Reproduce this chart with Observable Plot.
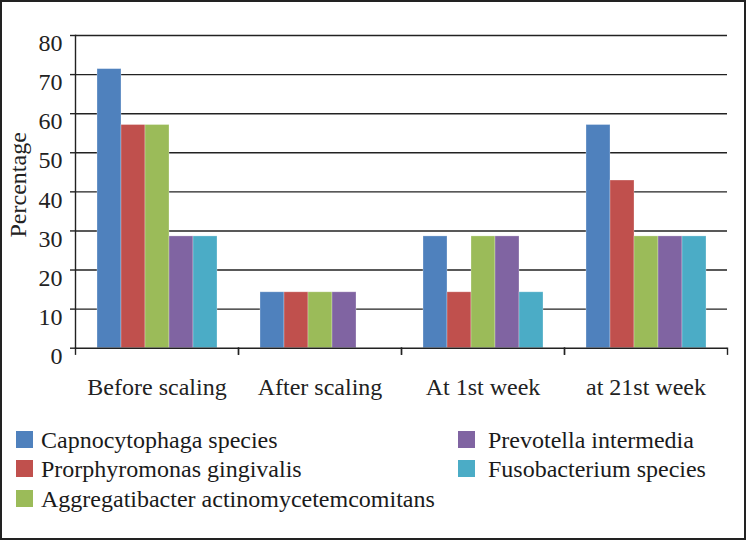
<!DOCTYPE html>
<html>
<head>
<meta charset="utf-8">
<script src="https://cdn.jsdelivr.net/npm/d3@7"></script>
<script src="https://cdn.jsdelivr.net/npm/@observablehq/plot@0.6"></script>
<style>
  html, body { margin: 0; padding: 0; background: #fff; }
  #wrap { position: relative; width: 746px; height: 540px; overflow: hidden; background: #fff; }
  #border { position: absolute; left: 0; top: 0; width: 746px; height: 540px; box-sizing: border-box; border: 2px solid #222; pointer-events: none; }
  #chart { position: absolute; left: 0; top: 0; }
  .item { position: absolute; height: 24px; line-height: 24px; font-family: "Liberation Serif", "Times New Roman", serif; font-size: 24px; color: #1a1a1a; white-space: nowrap; }
  .sw { position: absolute; left: 0; top: 3px; width: 17px; height: 17px; }
  .lbl { position: absolute; top: 0; }
</style>
</head>
<body>
<div id="wrap">
  <div id="chart"></div>
  <div id="legend"></div>
  <div id="border"></div>
</div>
<script>
const categories = ["Before scaling", "After scaling", "At 1st week", "at 21st week"];
const species = [
  "Capnocytophaga species",
  "Prorphyromonas gingivalis",
  "Aggregatibacter actinomycetemcomitans",
  "Prevotella intermedia",
  "Fusobacterium species"
];
const colors = ["#4F81BD", "#C0504D", "#9BBB59", "#8064A2", "#4BACC6"];
const capnocytophaga  = [71.4, 14.3, 28.6, 57.1];
const porphyromonas   = [57.1, 14.3, 14.3, 42.9];
const aggregatibacter = [57.1, 14.3, 28.6, 28.6];
const prevotella      = [28.6, 14.3, 28.6, 28.6];
const fusobacterium   = [28.6, 0,    14.3, 28.6];
const yTicks = [0, 10, 20, 30, 40, 50, 60, 70, 80];
const yTitle = "Percentage";

const seriesValues = [capnocytophaga, porphyromonas, aggregatibacter, prevotella, fusobacterium];
const data = [];
categories.forEach((c, i) => {
  species.forEach((s, j) => {
    data.push({category: c, species: s, value: seriesValues[j][i]});
  });
});

const ink = "#222";
const chart = Plot.plot({
  width: 746,
  height: 410,
  marginLeft: 74,
  marginRight: 19,
  marginTop: 35,
  marginBottom: 62.3,
  style: {fontFamily: "'Liberation Serif', 'Times New Roman', serif", fontSize: "24px", color: ink, background: "transparent"},
  fx: {domain: categories, padding: 0, label: null},
  x: {domain: species, paddingInner: 0, paddingOuter: 0.766, axis: null},
  y: {domain: [0, 80]},
  color: {domain: species, range: colors},
  marks: [
    Plot.ruleY(yTicks.slice(1), {stroke: ink, strokeWidth: 1.4}),
    Plot.barY(data, {fx: "category", x: "species", y: "value", fill: "species", stroke: "#fff", strokeOpacity: 0.35, strokeWidth: 0.8}),
    Plot.ruleY([0], {stroke: ink, strokeWidth: 1.4}),
    Plot.frame({anchor: "left", insetTop: 312.7, insetBottom: -6, stroke: ink, strokeWidth: 1.4}),
    Plot.frame({anchor: "right", insetTop: 312.7, insetBottom: -6, stroke: ink, strokeWidth: 1.4}),
    Plot.frame({anchor: "left", facetAnchor: "left", stroke: ink, strokeWidth: 1.4}),
    Plot.axisY(yTicks, {anchor: "left", tickSize: 5, tickFormat: () => "", stroke: ink, strokeWidth: 1.4, label: null}),
    Plot.axisY(yTicks, {anchor: "left", tickSize: 0, tickPadding: 13, dy: 8, label: null, fontSize: 24, fill: ink}),
    Plot.text([yTitle], {text: d => d, frameAnchor: "left", rotate: -90, dx: -57, dy: -7, fontSize: 24, fill: ink,
      textAnchor: "middle", lineAnchor: "middle", facetAnchor: "left"}),
    Plot.axisFx({anchor: "bottom", tickSize: 0, tickPadding: 30, label: null, fontSize: 24, fill: ink})
  ]
});
document.getElementById("chart").appendChild(chart);

// Legend
const legend = document.getElementById("legend");
const legendPos = [
  {left: 16, top: 428}, {left: 16, top: 457}, {left: 16, top: 487},
  {left: 458, top: 428}, {left: 458, top: 457}
];
species.forEach((s, i) => {
  const item = document.createElement("div");
  item.className = "item";
  item.style.left = legendPos[i].left + "px";
  item.style.top = legendPos[i].top + "px";
  const sw = document.createElement("div");
  sw.className = "sw";
  sw.style.background = colors[i];
  const lbl = document.createElement("span");
  lbl.className = "lbl";
  lbl.style.left = (i < 3 ? 25 : 30) + "px";
  lbl.textContent = s;
  item.appendChild(sw);
  item.appendChild(lbl);
  legend.appendChild(item);
});
</script>
</body>
</html>
